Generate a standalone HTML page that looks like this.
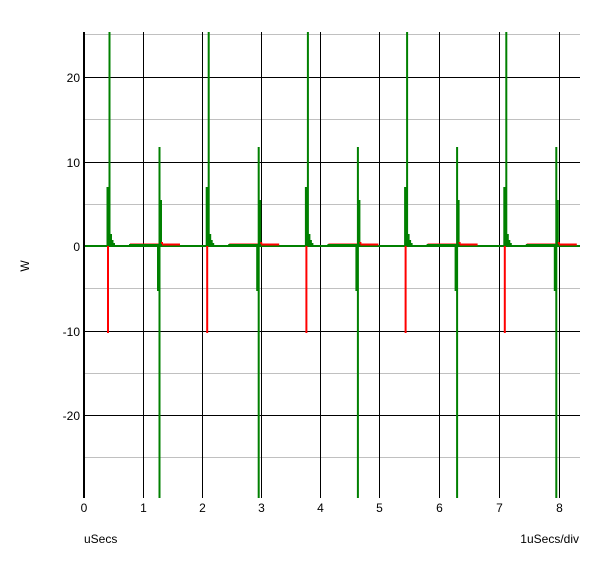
<!DOCTYPE html><html><head><style>body{margin:0;background:#fff}</style></head><body>
<svg width="600" height="563" xmlns="http://www.w3.org/2000/svg" font-family="Liberation Sans, sans-serif" font-size="12">
<rect width="600" height="563" fill="#fff"/>
<g stroke="#c0c0c0" stroke-width="1">
<line x1="84" x2="580" y1="34.5" y2="34.5"/><line x1="84" x2="580" y1="119.5" y2="119.5"/><line x1="84" x2="580" y1="204.5" y2="204.5"/><line x1="84" x2="580" y1="288.5" y2="288.5"/><line x1="84" x2="580" y1="373.5" y2="373.5"/><line x1="84" x2="580" y1="457.5" y2="457.5"/>
</g>
<g stroke="#000" stroke-width="1">
<line x1="84" x2="580" y1="77.5" y2="77.5"/><line x1="84" x2="580" y1="162.5" y2="162.5"/><line x1="84" x2="580" y1="246.5" y2="246.5"/><line x1="84" x2="580" y1="331.5" y2="331.5"/><line x1="84" x2="580" y1="415.5" y2="415.5"/>
<line x1="143.5" x2="143.5" y1="32" y2="498"/><line x1="202.5" x2="202.5" y1="32" y2="498"/><line x1="261.5" x2="261.5" y1="32" y2="498"/><line x1="320.5" x2="320.5" y1="32" y2="498"/><line x1="379.5" x2="379.5" y1="32" y2="498"/><line x1="439.5" x2="439.5" y1="32" y2="498"/><line x1="499.5" x2="499.5" y1="32" y2="498"/><line x1="559.5" x2="559.5" y1="32" y2="498"/>
</g>
<line x1="84" x2="84" y1="32" y2="498" stroke="#000" stroke-width="2"/>
<g id="p">
<line x1="85" x2="580" y1="246" y2="246" stroke="#008000" stroke-width="2"/>
<path d="M130 244.5H180M160 244.5H180" stroke="#f00" stroke-width="2"/>
<line x1="108" x2="108" y1="246" y2="333" stroke="#f00" stroke-width="2"/>
<path d="M129 245H160" stroke="#008000" stroke-width="2"/>
<path d="M107.5 246V187M109.5 246V32M111 246V234M112.5 246V240M114 246V243" stroke="#008000" stroke-width="2"/>
<path d="M158 246V291M159.5 498V147M161 246V200" stroke="#008000" stroke-width="2"/>
<path d="M161 243H163" stroke="#f00" stroke-width="2"/>
</g>
<use href="#p" x="99.2"/><use href="#p" x="198.4"/><use href="#p" x="297.6"/><use href="#p" x="396.8"/>
<rect x="580" y="0" width="20" height="563" fill="#fff"/>
<g text-anchor="end" fill="#000"><text x="80" y="82">20</text><text x="80" y="167">10</text><text x="80" y="251">0</text><text x="80" y="336">-10</text><text x="80" y="420">-20</text></g>
<g text-anchor="middle"><text x="84" y="512">0</text><text x="143.5" y="512">1</text><text x="202.5" y="512">2</text><text x="261.5" y="512">3</text><text x="320.5" y="512">4</text><text x="379.5" y="512">5</text><text x="439.5" y="512">6</text><text x="499.5" y="512">7</text><text x="559.5" y="512">8</text></g>
<text x="84" y="543">uSecs</text><text x="579" y="543" text-anchor="end">1uSecs/div</text>
<text transform="translate(29,266) rotate(-90)" text-anchor="middle">W</text>
</svg></body></html>
